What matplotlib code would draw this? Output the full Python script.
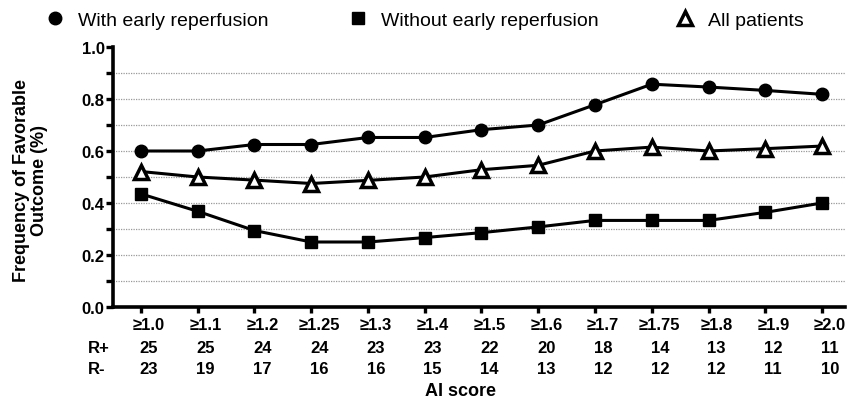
import numpy as np
import matplotlib
matplotlib.use("Agg")
import matplotlib.pyplot as plt
import matplotlib.transforms as mtransforms
from matplotlib.lines import Line2D

plt.rcParams['font.family'] = ['Liberation Sans', 'DejaVu Sans']

# AI score thresholds and patient counts
thresholds = ['≥1.0', '≥1.1', '≥1.2', '≥1.25', '≥1.3', '≥1.4', '≥1.5',
              '≥1.6', '≥1.7', '≥1.75', '≥1.8', '≥1.9', '≥2.0']
n_rplus = [25, 25, 24, 24, 23, 23, 22, 20, 18, 14, 13, 12, 11]
n_rminus = [23, 19, 17, 16, 16, 15, 14, 13, 12, 12, 12, 11, 10]

# frequency of favorable outcome
with_reperf = [0.600, 0.600, 0.625, 0.625, 0.652, 0.652, 0.682,
               0.700, 0.778, 0.857, 0.846, 0.833, 0.818]
without_reperf = [0.435, 0.368, 0.294, 0.250, 0.250, 0.267, 0.286,
                  0.308, 0.333, 0.333, 0.333, 0.364, 0.400]
all_patients = [0.521, 0.500, 0.488, 0.475, 0.487, 0.500, 0.528,
                0.545, 0.600, 0.615, 0.600, 0.609, 0.619]

x = np.arange(len(thresholds))

fig = plt.figure(figsize=(8.48, 4.02), dpi=100)
ax = fig.add_axes([113/848, 94/402, 732/848, 260/402])

lw = 2.2
l1, = ax.plot(x, with_reperf, color='black', lw=lw, marker='o', markersize=9,
              clip_on=False, zorder=4)
l2, = ax.plot(x, without_reperf, color='black', lw=lw, marker='s', markersize=8.5,
              clip_on=False, zorder=4)
l3, = ax.plot(x, all_patients, color='black', lw=lw, marker='^', markersize=10,
              markerfacecolor='white', markeredgecolor='black', markeredgewidth=2.5,
              clip_on=False, zorder=5)

ax.set_xlim(-0.493, 12.405)
ax.set_ylim(0, 1.0)
ax.set_yticks(np.arange(0, 1.01, 0.2))
ax.set_yticks(np.arange(0.1, 1.0, 0.2), minor=True)
ax.set_yticklabels(['0.0', '0.2', '0.4', '0.6', '0.8', '1.0'],
                   fontsize=12, fontweight='bold')

# dotted horizontal grid, none at the top
ax.grid(axis='y', which='both', color='#999999', lw=0.9, linestyle=(0, (1, 1)))
ax.yaxis.get_major_ticks()[-1].gridline.set_visible(False)
ax.yaxis.get_major_ticks()[0].gridline.set_visible(False)

for s in ['top', 'right']:
    ax.spines[s].set_visible(False)
for s in ['left', 'bottom']:
    ax.spines[s].set_linewidth(2.6)

ax.tick_params(axis='y', which='both', length=5, width=2.4, pad=1, direction='out')
ax.tick_params(axis='x', length=4, width=2.4, pad=3, direction='out')

ax.set_xticks(x)
ax.set_xticklabels(thresholds, fontsize=12, fontweight='bold')
shift = mtransforms.ScaledTranslation(8/100, 0, fig.dpi_scale_trans)
for lab in ax.get_xticklabels():
    lab.set_transform(lab.get_transform() + shift)

# patient counts under each threshold
trans = mtransforms.blended_transform_factory(ax.transData, ax.transAxes) + shift
for xi, a, b in zip(x, n_rplus, n_rminus):
    ax.text(xi, -0.154, str(a), transform=trans, ha='center', va='center',
            fontsize=12, fontweight='bold')
    ax.text(xi, -0.235, str(b), transform=trans, ha='center', va='center',
            fontsize=12, fontweight='bold')
ax.text(-0.034, -0.154, 'R+', transform=ax.transAxes, ha='left', va='center',
        fontsize=12, fontweight='bold')
ax.text(-0.034, -0.235, 'R-', transform=ax.transAxes, ha='left', va='center',
        fontsize=12, fontweight='bold')

ax.set_xlabel('AI score', fontsize=13, fontweight='bold', va='center')
ax.xaxis.set_label_coords(0.475, -0.322)
ax.set_ylabel('Frequency of Favorable\nOutcome (%)', fontsize=13,
              fontweight='bold', va='center', linespacing=1.1)
ax.yaxis.set_label_coords(-0.113, 0.49)

# legend across the top, one entry at a time
entries = [
    (Line2D([], [], color='black', marker='o', markersize=9, linestyle='none'),
     'With early reperfusion', 45),
    (Line2D([], [], color='black', marker='s', markersize=8.5, linestyle='none'),
     'Without early reperfusion', 348),
    (Line2D([], [], color='black', marker='^', markersize=10, linestyle='none',
            markerfacecolor='white', markeredgewidth=2.5),
     'All patients', 675),
]
for h, lab, xpix in entries:
    fig.legend([h], [lab], loc='center left', bbox_to_anchor=(xpix/848, 1 - 21/402),
               frameon=False, fontsize=14, handlelength=1.0, handletextpad=0.7,
               borderpad=0, borderaxespad=0)

fig.savefig('out.png', dpi=100)
